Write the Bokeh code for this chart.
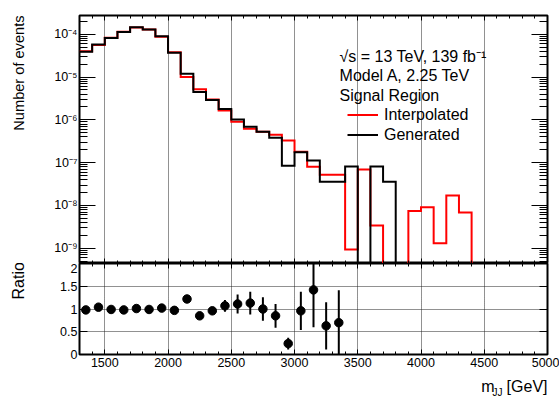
import numpy as np
from bokeh.plotting import figure
from bokeh.models import (Range1d, LinearAxis, LogAxis, SingleIntervalTicker, FixedTicker,
                          LogTicker, CustomJSTickFormatter, Label, Legend, LegendItem)
from bokeh.layouts import column
from bokeh.embed import file_html
from bokeh.resources import INLINE

# ---------------- data ----------------
bin_edges = [1300, 1400, 1500, 1600, 1700, 1800, 1900, 2000, 2100, 2200, 2300, 2400,
             2500, 2600, 2700, 2800, 2900, 3000, 3100, 3200, 3300, 3400, 3500, 3600,
             3700, 3800, 3900, 4000, 4100, 4200, 4300, 4400, 4500, 4600, 4700, 4800,
             4900, 5000]
generated = [3.9e-5, 5.8e-5, 8.2e-5, 1.13e-4, 1.46e-4, 1.29e-4, 9.0e-5, 3.7e-5,
             1.2e-5, 4.5e-6, 2.9e-6, 1.8e-6, 1.02e-6, 6.9e-7, 5.3e-7, 3.8e-7,
             8.5e-8, 1.74e-7, 1.13e-7, 3.6e-8, 3.6e-8, 8.1e-8, 0.0, 8.1e-8,
             3.6e-8, 0.0, 0.0, 0.0, 0.0, 0.0, 0.0, 0.0, 0.0, 0.0, 0.0, 0.0, 0.0]
interpolated = [4.0e-5, 5.6e-5, 8.3e-5, 1.15e-4, 1.45e-4, 1.30e-4, 8.8e-5, 3.8e-5,
                1.0e-5, 5.2e-6, 3.0e-6, 1.65e-6, 9.0e-7, 6.2e-7, 5.3e-7, 4.5e-7,
                3.3e-7, 1.8e-7, 8.0e-8, 5.2e-8, 5.2e-8, 9.3e-10, 6.9e-8, 3.4e-9,
                0.0, 0.0, 7.4e-9, 9.1e-9, 1.3e-9, 1.7e-8, 6.8e-9, 0.0, 0.0, 0.0,
                0.0, 0.0, 0.0]
ratio_x = [1350, 1450, 1550, 1650, 1750, 1850, 1950, 2050, 2150, 2250, 2350,
           2450, 2550, 2650, 2750, 2850, 2950, 3050, 3150, 3250, 3350]
ratio = [0.98, 1.04, 0.99, 0.98, 1.01, 0.99, 1.02, 0.97, 1.22, 0.85, 0.96,
         1.07, 1.11, 1.13, 1.00, 0.85, 0.24, 0.96, 1.42, 0.63, 0.70]
ratio_err = [0.02, 0.02, 0.02, 0.02, 0.02, 0.02, 0.03, 0.03, 0.05, 0.06, 0.08,
             0.13, 0.21, 0.25, 0.26, 0.26, 0.13, 0.42, 0.82, 0.52, 0.71]
ratio_ticks = [0, 0.5, 1, 1.5, 2]
text_lines = ["\u221as = 13 TeV, 139 fb\u207b\u00b9", "Model A, 2.25 TeV", "Signal Region"]
series_names = ["Interpolated", "Generated"]

FONT = "Liberation Sans"
XMIN, XMAX = 1300, 5000
YMIN, YMAX = 4.4e-10, 2.75e-4
W = 559
LB, RB = 79, 12
GRID = "#222222"

log_fmt = CustomJSTickFormatter(code="""
const e = Math.round(Math.log10(tick));
const sup = {"-":"\u207b","0":"\u2070","1":"\u00b9","2":"\u00b2","3":"\u00b3","4":"\u2074",
             "5":"\u2075","6":"\u2076","7":"\u2077","8":"\u2078","9":"\u2079"};
return "10" + String(e).split("").map(c => sup[c]).join("");
""")


def style_axis(ax, tin, tmin, show=True, size="12.5px", standoff=2):
    ax.major_tick_in = tin
    ax.major_tick_out = 0
    ax.minor_tick_in = tmin
    ax.minor_tick_out = 0
    ax.axis_line_color = None
    ax.major_tick_line_color = "black"
    ax.minor_tick_line_color = "black"
    ax.major_label_text_font = FONT
    if show:
        ax.major_label_text_color = "black"
        ax.major_label_text_font_size = size
        ax.major_label_standoff = standoff
    else:
        ax.major_label_text_color = None
        ax.major_label_standoff = 0


def out_label(text, x, y, size, **kw):
    return Label(x=x, y=y, text=text, text_font=FONT, text_font_size=size,
                 text_color="black", **kw)


# ---------------- top panel ----------------
top = figure(width=W, height=263, x_range=Range1d(XMIN, XMAX), y_range=Range1d(YMIN, YMAX),
             y_axis_type="log", output_backend="svg", toolbar_location=None,
             min_border_left=LB, min_border_right=RB, min_border_top=15, min_border_bottom=0)
top.outline_line_color = "black"
top.outline_line_width = 2

top.xaxis.ticker = SingleIntervalTicker(interval=500, num_minor_ticks=5)
style_axis(top.xaxis[0], 5, 3, show=False)
top.yaxis.ticker = LogTicker(num_minor_ticks=10)
top.yaxis.formatter = log_fmt
style_axis(top.yaxis[0], 16, 8, show=True)

ax_r = LogAxis(ticker=LogTicker(num_minor_ticks=10))
style_axis(ax_r, 16, 8, show=False)
top.add_layout(ax_r, "right")
ax_t = LinearAxis(ticker=SingleIntervalTicker(interval=500, num_minor_ticks=5))
style_axis(ax_t, 5, 3, show=False)
top.add_layout(ax_t, "above")

top.xgrid.grid_line_color = GRID
top.xgrid.grid_line_dash = "1 1"
top.ygrid.visible = False

edges = np.array(bin_edges, dtype=float)


def outline(vals):
    v = np.array(vals, dtype=float)
    v = np.where(v > 0, v, YMIN * 1e-3)
    xs = np.repeat(edges, 2)[1:-1]
    ys = np.repeat(v, 2)
    return xs, ys


xi, yi = outline(interpolated)
xg, yg = outline(generated)
r_int = top.line(xi, yi, line_color="#ff0000", line_width=2, line_join="miter")
r_gen = top.line(xg, yg, line_color="black", line_width=2, line_join="miter")

legend = Legend(items=[LegendItem(label=series_names[0], renderers=[r_int]),
                       LegendItem(label=series_names[1], renderers=[r_gen])],
                location=(268, 119), border_line_color=None, background_fill_alpha=0,
                padding=0, margin=0, spacing=1, glyph_width=31, glyph_height=19,
                label_height=19, label_standoff=6, label_text_font=FONT,
                label_text_font_size="16px", label_text_color="black")
top.add_layout(legend)

for i, t in enumerate(text_lines):
    ylog = [-4.529, -4.972, -5.427][i]
    top.add_layout(Label(x=3356, y=10 ** ylog, text=t, text_font=FONT, text_font_size="16px",
                         text_baseline="middle", text_align="left", text_color="black"))

top.add_layout(out_label("Number of events", 818, YMAX, "14.6px", angle=np.pi / 2,
                         text_align="right", text_baseline="middle"), "left")

# ---------------- ratio panel ----------------
bot = figure(width=W, height=137, x_range=Range1d(XMIN, XMAX), y_range=Range1d(0, 2),
             output_backend="svg", toolbar_location=None,
             min_border_left=LB, min_border_right=RB, min_border_top=0, min_border_bottom=46)
bot.outline_line_color = "black"
bot.outline_line_width = 2

bot.xaxis.ticker = SingleIntervalTicker(interval=500, num_minor_ticks=5)
style_axis(bot.xaxis[0], 5, 3, show=True, standoff=3)
bot.yaxis.ticker = FixedTicker(ticks=ratio_ticks)
style_axis(bot.yaxis[0], 8, 0, show=True)

ax_r2 = LinearAxis(ticker=FixedTicker(ticks=ratio_ticks))
style_axis(ax_r2, 8, 0, show=False)
bot.add_layout(ax_r2, "right")
ax_t2 = LinearAxis(ticker=SingleIntervalTicker(interval=500, num_minor_ticks=5))
style_axis(ax_t2, 5, 3, show=False)
bot.add_layout(ax_t2, "above")

bot.xgrid.grid_line_color = GRID
bot.xgrid.grid_line_dash = "1 1"
bot.ygrid.grid_line_color = GRID
bot.ygrid.grid_line_dash = "1 1"

rx = np.array(ratio_x, dtype=float)
rv = np.array(ratio, dtype=float)
re = np.array(ratio_err, dtype=float)
bot.segment(x0=rx, y0=rv - re, x1=rx, y1=rv + re, line_color="black", line_width=2)
bot.scatter(rx, rv, size=8.5, marker="circle", fill_color="black", line_color="black")

bot.add_layout(out_label("Ratio", 818, 1.21, "16px", angle=np.pi / 2, text_align="left",
                         text_baseline="middle"), "left")
bot.add_layout(out_label("m", XMAX, -0.88, "16px", x_offset=-53, text_align="right"), "left")
bot.add_layout(out_label("JJ", XMAX, -0.88, "10px", x_offset=-45, y_offset=-3,
                         text_align="right"), "left")
bot.add_layout(out_label("[GeV]", XMAX, -0.88, "16px", text_align="right"), "below")

layout = column(top, bot, spacing=0)
open("out.html", "w").write(file_html(layout, INLINE))
